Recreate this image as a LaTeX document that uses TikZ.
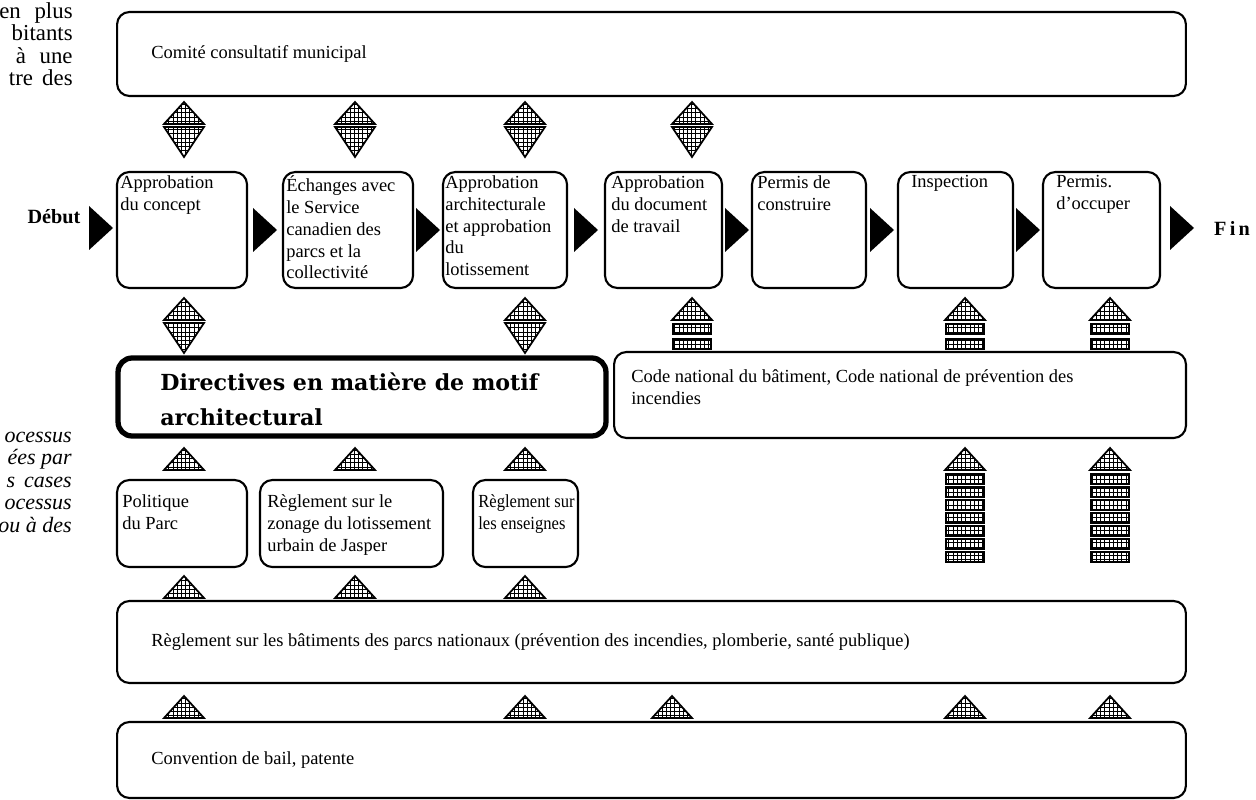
\documentclass[tikz,border=0pt]{standalone}
\usepackage{fontspec}
\setmainfont{Liberation Serif}
\newfontfamily\dirfont{DejaVu Serif}
\newfontfamily\condfont[FakeStretch=0.9]{Liberation Serif}
\usetikzlibrary{patterns,calc}
\pgfdeclarepatternformonly{finegrid}{\pgfqpoint{-0.5pt}{-0.5pt}}{\pgfqpoint{2.9pt}{2.9pt}}{\pgfqpoint{2.4pt}{2.4pt}}
{
  \pgfsetlinewidth{0.35pt}
  \pgfpathmoveto{\pgfqpoint{0pt}{0pt}}
  \pgfpathlineto{\pgfqpoint{2.5pt}{0pt}}
  \pgfpathmoveto{\pgfqpoint{0pt}{0pt}}
  \pgfpathlineto{\pgfqpoint{0pt}{2.5pt}}
  \pgfusepath{stroke}
}
\begin{document}
\begin{tikzpicture}[x=0.02cm,y=-0.02cm,
  box/.style={draw, line width=1.2pt, rounded corners=7pt, inner sep=0pt},
  txt/.style={anchor=north west, align=left, inner sep=0pt, font=\fontsize{10.5}{12.5}\selectfont},
  tri/.style={draw, line width=1pt, pattern=finegrid},
  uptri/.pic={\draw[tri] (-20,0) -- (0,-22) -- (20,0) -- cycle;},
  dntri/.pic={\draw[tri] (-20,0) -- (20,0) -- (0,30) -- cycle;},
  barpic/.pic={\draw[tri] (-19,0) rectangle (19,10);},
  gopic/.pic={\fill (-12,-22) -- (12,0) -- (-12,22) -- cycle;}
]
\useasboundingbox (0,0) rectangle (1256,800);

% side fragments
\node[anchor=east, align=right, inner sep=0pt, font=\fontsize{13}{12.8}\selectfont] (frag1) at (73,44) {en\hspace{0.6em}plus\\bitants\\à\hspace{0.6em}une\\tre\hspace{0.4em}des};
\node[anchor=east, align=right, inner sep=0pt, font=\fontsize{12.5}{12.8}\itshape] (frag2) at (72,482) {ocessus\\ées par\\s\hspace{0.4em}cases\\ocessus\\ou à des};

% top box
\node[box, minimum width=21.38cm, minimum height=1.68cm] (top) at (651.5,54) {};
\node[txt, anchor=west] (toptxt) at ([xshift=0.7cm]top.west) {Comité consultatif municipal};

% process boxes
\node[box, minimum width=2.6cm, minimum height=2.32cm] (p1) at (182,230) {};
\node[box, minimum width=2.6cm, minimum height=2.32cm] (p2) at (348,230) {};
\node[box, minimum width=2.48cm, minimum height=2.32cm] (p3) at (505,230) {};
\node[box, minimum width=2.34cm, minimum height=2.32cm] (p4) at (663.5,230) {};
\node[box, minimum width=2.28cm, minimum height=2.32cm] (p5) at (809,230) {};
\node[box, minimum width=2.3cm, minimum height=2.32cm] (p6) at (955.5,230) {};
\node[box, minimum width=2.34cm, minimum height=2.32cm] (p7) at (1101.5,230) {};

\node[txt] (t1) at ([xshift=0.08cm,yshift=-0.08cm]p1.north west) {Approbation\\du concept};
\node[txt] (t2) at ([xshift=0.08cm,yshift=-0.08cm]p2.north west) {Échanges avec\\le Service\\canadien des\\parcs et la\\collectivité};
\node[txt] (t3) at ([xshift=0.06cm,yshift=-0.08cm]p3.north west) {Approbation\\architecturale\\et approbation\\du\\lotissement};
\node[txt] (t4) at ([xshift=0.14cm,yshift=-0.08cm]p4.north west) {Approbation\\du document\\de travail};
\node[txt] (t5) at ([xshift=0.12cm,yshift=-0.08cm]p5.north west) {Permis de\\construire};
\node[txt] (t6) at ([xshift=0.28cm,yshift=-0.08cm]p6.north west) {Inspection};
\node[txt] (t7) at ([xshift=0.28cm,yshift=-0.08cm]p7.north west) {Permis.\\d'occuper};

% flow arrows
\node[font=\fontsize{11.5}{12}\bfseries, inner sep=0pt] (debut) at (54,217) {Début};
\node[font=\fontsize{11.5}{12}\bfseries, inner sep=0pt] (fin) at (1232,228) {F\,i\,n};
\path (101,228) pic {gopic};
\path ($(p1.east)!0.5!(p2.west)$) pic {gopic};
\path ($(p2.east)!0.5!(p3.west)$) pic {gopic};
\path ($(p3.east)!0.5!(p4.west)$) pic {gopic};
\path ($(p4.east)!0.5!(p5.west)$) pic {gopic};
\path ($(p5.east)!0.5!(p6.west)$) pic {gopic};
\path ($(p6.east)!0.5!(p7.west)$) pic {gopic};
\path (1182,228) pic {gopic};

% double arrows between top box and process boxes
\foreach \x in {184,355,525,692} {
  \path (\x,124) pic {uptri};
  \path (\x,127) pic {dntri};
}

% middle boxes
\node[draw, line width=3pt, rounded corners=8pt, minimum width=9.76cm, minimum height=1.56cm] (dir) at (362,397) {};
\node[anchor=north west, align=justify, text width=7.75cm, inner sep=0pt, font=\dirfont\bfseries\fontsize{12.6}{18}\selectfont] (dirtxt) at (160,372) {Directives en matière de motif\\[2pt]architectural};
\node[box, minimum width=11.44cm, minimum height=1.72cm] (code) at (900,395) {};
\node[txt] (codetxt) at ([xshift=0.36cm,yshift=-0.36cm]code.north west) {Code national du bâtiment, Code national de prévention des\\incendies};

% double arrows between process boxes and directives
\foreach \x in {184,525} {
  \path (\x,320) pic {uptri};
  \path (\x,323) pic {dntri};
}
% short fire-code arrows
\foreach \x in {692,965,1110} {
  \path (\x,320) pic {uptri};
  \path (\x,324) pic {barpic};
  \path (\x,339) pic {barpic};
}

% triangles below directives and above the building regulation
\foreach \x in {184,355,525} {
  \path (\x,470) pic {uptri};
  \path (\x,598) pic {uptri};
}

% tall fire-code arrows
\foreach \x in {965,1110} {
  \path (\x,470) pic {uptri};
  \foreach \k in {0,...,6} {
    \path (\x,474+13*\k) pic {barpic};
  }
}

% third row boxes
\node[box, minimum width=2.6cm, minimum height=1.74cm] (pol) at (182,523.5) {};
\node[box, minimum width=3.66cm, minimum height=1.74cm] (zon) at (351.5,523.5) {};
\node[box, minimum width=2.1cm, minimum height=1.74cm] (ens) at (525.5,523.5) {};
\node[txt] (poltxt) at ([xshift=0.12cm,yshift=-0.3cm]pol.north west) {Politique\\du Parc};
\node[txt] (zontxt) at ([xshift=0.16cm,yshift=-0.3cm]zon.north west) {Règlement sur le\\zonage du lotissement\\urbain de Jasper};
\node[txt, font=\condfont\fontsize{10.5}{12.5}\selectfont] (enstxt) at ([xshift=0.12cm,yshift=-0.3cm]ens.north west) {Règlement sur\\les enseignes};

% bottom boxes
\node[box, minimum width=21.38cm, minimum height=1.64cm] (reg) at (651.5,642) {};
\node[txt, anchor=west] (regtxt) at ([xshift=0.7cm]reg.west) {Règlement sur les bâtiments des parcs nationaux (prévention des incendies, plomberie, santé publique)};
\foreach \x in {184,525,672,965,1110} {
  \path (\x,718) pic {uptri};
}
\node[box, minimum width=21.38cm, minimum height=1.52cm] (conv) at (651.5,760) {};
\node[txt, anchor=west] (convtxt) at ([xshift=0.7cm]conv.west) {Convention de bail, patente};
\end{tikzpicture}
\end{document}
